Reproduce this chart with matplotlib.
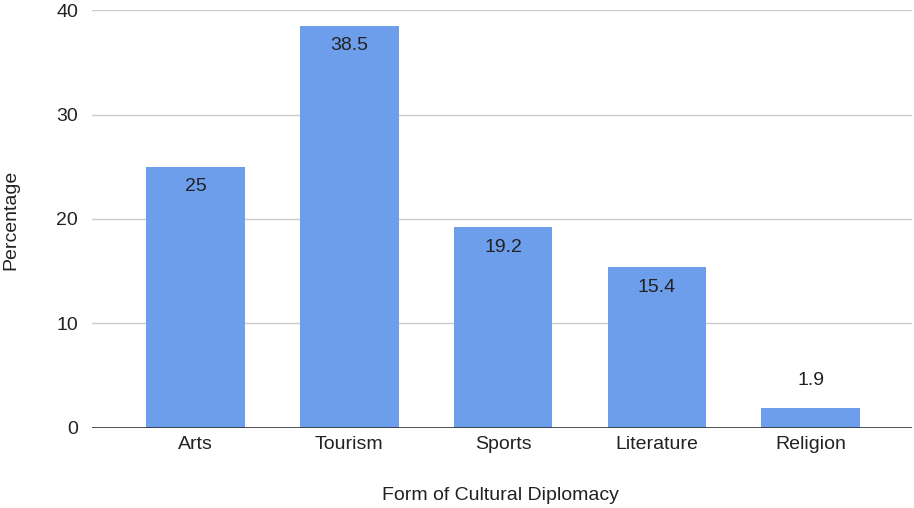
import matplotlib.pyplot as plt

categories = ['Arts', 'Tourism', 'Sports', 'Literature', 'Religion']
values = [25, 38.5, 19.2, 15.4, 1.9]
value_labels = ['25', '38.5', '19.2', '15.4', '1.9']
yticks = [0, 10, 20, 30, 40]

plt.rcParams['font.family'] = ['Liberation Sans', 'DejaVu Sans']
fs = 14

fig = plt.figure(figsize=(9.14, 5.08), dpi=100)
ax = fig.add_axes([0.1007, 0.1575, 0.8971, 0.8228])

bar_color = '#6d9eeb'
bars = ax.bar(range(len(categories)), values, width=0.64, color=bar_color, zorder=3)

for b, v, lab in zip(bars, values, value_labels):
    x = b.get_x() + b.get_width() / 2
    off = -20 if v > 5 else 28
    ax.annotate(lab, (x, v), xytext=(0, off), textcoords='offset pixels',
                ha='center', va='center', fontsize=fs, color='#222222', zorder=4)

ax.set_xlim(-0.674, 4.66)
ax.set_ylim(0, 40)
ax.set_yticks(yticks)
ax.set_xticks(range(len(categories)))
ax.set_xticklabels(categories)
ax.tick_params(axis='both', length=0, labelsize=fs, colors='#222222')
ax.tick_params(axis='y', pad=10)
ax.tick_params(axis='x', pad=6)

ax.grid(axis='y', color='#cccccc', linewidth=1, zorder=0)
ax.axhline(0, color='#333333', linewidth=1.2, zorder=5)
for s in ax.spines.values():
    s.set_visible(False)

fig.text(0.547, 12 / 508, 'Form of Cultural Diplomacy', fontsize=fs, color='#222222',
         ha='center', va='center')
fig.text(11 / 914, 0.567, 'Percentage', fontsize=fs, color='#222222',
         ha='center', va='center', rotation=90)

fig.savefig('out.png', dpi=100, facecolor='white')
